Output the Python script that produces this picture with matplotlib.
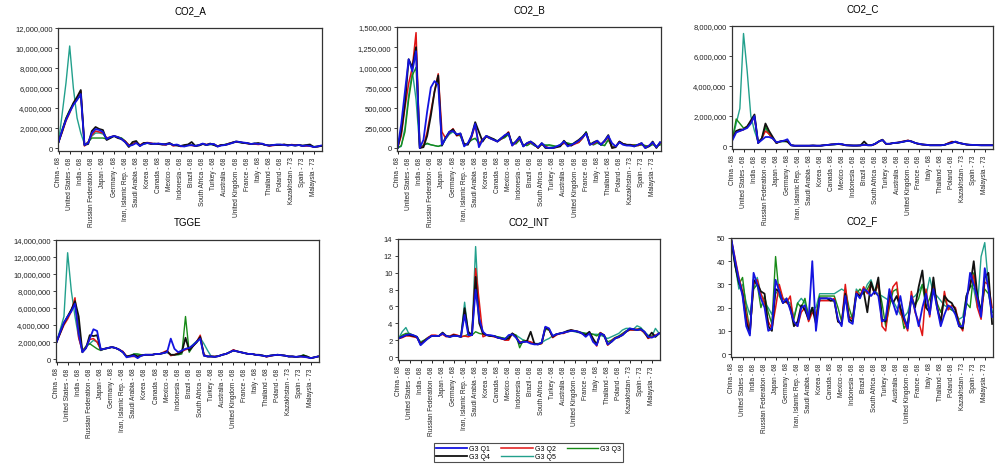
import numpy as np
import matplotlib
matplotlib.use("Agg")
import matplotlib.pyplot as plt
from matplotlib.ticker import FuncFormatter, MultipleLocator

plt.rcParams['font.family'] = ['Liberation Sans', 'DejaVu Sans']

# panel of 24 countries, 3 observations per country on the x axis
countries = ["China", "United States", "India", "Russian Federation", "Japan", "Germany",
             "Iran, Islamic Rep.", "Saudi Arabia", "Korea", "Canada", "Mexico", "Indonesia",
             "Brazil", "South Africa", "Turkey", "Australia", "United Kingdom", "France",
             "Italy", "Thailand", "Poland", "Kazakhstan", "Spain", "Malaysia"]
start_years = [68, 68, 68, 68, 68, 68, 68, 68, 68, 68, 68, 68,
               68, 68, 68, 68, 68, 68, 68, 68, 68, 73, 73, 73]
per_country = 3

series_names = ["G3 Q1", "G3 Q2", "G3 Q3", "G3 Q4", "G3 Q5"]

# CO2_A, millions
co2a_q1 = [0.6, 1.8, 2.8, 3.6, 4.3, 4.8, 5.4, 0.3, 0.5, 1.5, 1.9, 1.8, 1.6, 0.9, 1.1, 1.2, 1.1, 0.9,
           0.6, 0.2, 0.3, 0.5, 0.2, 0.4, 0.5, 0.45, 0.4, 0.45, 0.4, 0.35, 0.45, 0.3, 0.35, 0.2, 0.15, 0.25,
           0.3, 0.2, 0.3, 0.45, 0.3, 0.4, 0.4, 0.15, 0.25, 0.3, 0.4, 0.5, 0.65, 0.6, 0.55, 0.5, 0.4, 0.45,
           0.4, 0.45, 0.3, 0.25, 0.3, 0.35, 0.35, 0.3, 0.25, 0.3, 0.25, 0.3, 0.2, 0.25, 0.2, 0.1, 0.15, 0.25]
co2a_q2 = [0.6, 1.6, 2.7, 3.5, 4.4, 5.0, 5.7, 0.2, 0.6, 1.3, 1.7, 1.6, 1.5, 1.0, 1.1, 1.2, 1.1, 0.9,
           0.7, 0.3, 0.4, 0.6, 0.3, 0.5, 0.55, 0.5, 0.4, 0.45, 0.35, 0.3, 0.5, 0.2, 0.3, 0.15, 0.2, 0.3,
           0.25, 0.2, 0.3, 0.4, 0.35, 0.4, 0.35, 0.2, 0.3, 0.3, 0.45, 0.55, 0.6, 0.6, 0.5, 0.45, 0.4, 0.4,
           0.35, 0.4, 0.3, 0.2, 0.25, 0.3, 0.3, 0.35, 0.25, 0.35, 0.3, 0.3, 0.2, 0.2, 0.2, 0.1, 0.15, 0.2]
co2a_q3 = [0.6, 1.9, 3.0, 3.8, 4.4, 4.9, 5.2, 0.3, 0.6, 1.0, 1.0, 1.0, 1.0, 0.9, 1.1, 1.2, 1.1, 1.0,
           0.7, 0.3, 0.4, 0.5, 0.3, 0.4, 0.5, 0.45, 0.4, 0.4, 0.4, 0.35, 0.4, 0.3, 0.3, 0.2, 0.2, 0.25,
           0.3, 0.25, 0.3, 0.4, 0.3, 0.35, 0.4, 0.2, 0.3, 0.35, 0.45, 0.5, 0.6, 0.55, 0.5, 0.45, 0.4, 0.45,
           0.4, 0.4, 0.3, 0.25, 0.3, 0.35, 0.35, 0.3, 0.25, 0.3, 0.25, 0.3, 0.2, 0.25, 0.25, 0.15, 0.15, 0.2]
co2a_q4 = [0.6, 1.7, 2.9, 3.7, 4.5, 5.1, 5.8, 0.3, 0.4, 1.7, 2.1, 1.9, 1.8, 0.8, 1.0, 1.2, 1.0, 0.9,
           0.6, 0.1, 0.6, 0.7, 0.2, 0.5, 0.5, 0.4, 0.45, 0.4, 0.35, 0.4, 0.5, 0.3, 0.25, 0.2, 0.3, 0.35,
           0.6, 0.2, 0.25, 0.4, 0.3, 0.45, 0.3, 0.15, 0.3, 0.3, 0.4, 0.55, 0.65, 0.6, 0.5, 0.5, 0.4, 0.45,
           0.5, 0.4, 0.3, 0.25, 0.3, 0.3, 0.3, 0.35, 0.3, 0.3, 0.25, 0.3, 0.25, 0.3, 0.35, 0.1, 0.15, 0.2]
co2a_q5 = [0.6, 3.5, 6.5, 10.2, 6.0, 3.0, 1.5, 0.4, 0.5, 1.2, 1.5, 1.5, 1.4, 0.9, 1.0, 1.2, 1.1, 1.0,
           0.7, 0.3, 0.4, 0.5, 0.3, 0.4, 0.5, 0.45, 0.4, 0.45, 0.35, 0.3, 0.45, 0.3, 0.3, 0.2, 0.2, 0.3,
           0.3, 0.2, 0.3, 0.4, 0.35, 0.35, 0.3, 0.2, 0.3, 0.35, 0.45, 0.55, 0.6, 0.55, 0.5, 0.45, 0.4, 0.45,
           0.4, 0.4, 0.3, 0.25, 0.3, 0.3, 0.3, 0.35, 0.25, 0.3, 0.3, 0.3, 0.2, 0.25, 0.25, 0.1, 0.15, 0.2]

# CO2_B, thousands
co2b_q1 = [0, 300, 700, 1100, 950, 1200, 0, 100, 450, 750, 830, 780, 40, 120, 200, 210, 170, 180,
           20, 60, 150, 300, 10, 100, 150, 120, 100, 80, 120, 160, 180, 30, 80, 130, 20, 60,
           80, 40, 10, 60, 10, 0, 0, 20, 40, 80, 20, 40, 60, 90, 130, 180, 40, 60,
           90, 40, 90, 150, 60, 20, 70, 40, 30, 30, 20, 40, 60, 0, 30, 70, 10, 70]
co2b_q2 = [0, 150, 500, 800, 1000, 1430, 0, 20, 200, 450, 700, 920, 200, 120, 190, 240, 150, 170,
           40, 50, 130, 280, 40, 110, 140, 120, 100, 80, 110, 150, 200, 30, 70, 120, 30, 50,
           70, 40, 0, 50, 20, 0, 0, 10, 30, 60, 40, 30, 50, 70, 120, 190, 50, 50,
           80, 50, 80, 140, 0, 20, 80, 50, 40, 40, 30, 30, 50, 10, 30, 60, 10, 60]
co2b_q3 = [0, 30, 200, 600, 900, 1000, 0, 30, 60, 40, 30, 20, 40, 120, 180, 220, 170, 150,
           40, 60, 100, 120, 60, 100, 140, 120, 100, 80, 110, 130, 170, 60, 50, 100, 40, 30,
           60, 30, 10, 40, 30, 40, 30, 20, 40, 70, 60, 50, 60, 70, 120, 200, 60, 40,
           70, 40, 30, 100, 10, 20, 80, 50, 40, 30, 40, 30, 40, 30, 20, 50, 20, 40]
co2b_q4 = [0, 200, 550, 1100, 1000, 1250, 0, 10, 150, 400, 700, 900, 30, 130, 200, 230, 160, 180,
           50, 40, 150, 320, 200, 80, 150, 130, 110, 80, 120, 150, 190, 40, 80, 140, 20, 60,
           80, 50, 0, 60, 0, 0, 0, 10, 20, 90, 40, 30, 70, 100, 140, 190, 40, 70,
           90, 40, 90, 160, 0, 10, 80, 50, 40, 40, 20, 40, 60, 0, 20, 80, 0, 70]
co2b_q5 = [0, 20, 250, 650, 950, 600, 0, 40, 50, 40, 30, 20, 30, 110, 170, 200, 160, 150,
           30, 50, 100, 120, 60, 100, 140, 120, 110, 90, 110, 130, 170, 50, 60, 110, 40, 30,
           60, 30, 10, 50, 40, 30, 20, 20, 30, 60, 60, 50, 60, 70, 130, 200, 50, 40,
           60, 40, 30, 110, 20, 20, 70, 50, 40, 30, 40, 30, 40, 30, 20, 40, 20, 40]

# CO2_C, millions
co2c_q1 = [0.4, 0.9, 1.0, 1.1, 1.2, 1.5, 2.0, 0.2, 0.4, 0.6, 0.6, 0.5, 0.25, 0.3, 0.35, 0.45, 0.05, 0.02,
           0.02, 0.02, 0.02, 0.02, 0.03, 0.02, 0.02, 0.05, 0.07, 0.1, 0.12, 0.15, 0.12, 0.05, 0.04, 0.03, 0.03, 0.04,
           0.08, 0.05, 0.05, 0.15, 0.3, 0.4, 0.15, 0.15, 0.2, 0.22, 0.25, 0.3, 0.35, 0.3, 0.2, 0.15, 0.1, 0.08,
           0.05, 0.05, 0.05, 0.05, 0.08, 0.15, 0.2, 0.3, 0.2, 0.15, 0.1, 0.08, 0.07, 0.06, 0.05, 0.05, 0.05, 0.05]
co2c_q2 = [0.5, 1.0, 1.0, 1.1, 1.3, 1.6, 1.9, 0.2, 0.5, 1.0, 0.8, 0.5, 0.2, 0.3, 0.35, 0.3, 0.05, 0.02,
           0.02, 0.02, 0.02, 0.02, 0.03, 0.02, 0.02, 0.05, 0.08, 0.1, 0.12, 0.12, 0.1, 0.05, 0.04, 0.03, 0.03, 0.04,
           0.06, 0.05, 0.05, 0.12, 0.3, 0.42, 0.12, 0.15, 0.2, 0.22, 0.28, 0.33, 0.38, 0.3, 0.2, 0.12, 0.1, 0.08,
           0.05, 0.05, 0.05, 0.05, 0.08, 0.2, 0.3, 0.25, 0.2, 0.15, 0.1, 0.08, 0.07, 0.06, 0.05, 0.05, 0.05, 0.05]
co2c_q3 = [0.5, 1.8, 1.5, 1.2, 1.3, 1.6, 2.0, 0.2, 0.5, 1.3, 0.8, 0.5, 0.2, 0.3, 0.3, 0.3, 0.05, 0.02,
           0.02, 0.02, 0.02, 0.02, 0.03, 0.02, 0.02, 0.05, 0.07, 0.1, 0.1, 0.12, 0.1, 0.05, 0.04, 0.03, 0.03, 0.04,
           0.1, 0.05, 0.05, 0.15, 0.3, 0.4, 0.15, 0.15, 0.2, 0.2, 0.25, 0.3, 0.35, 0.3, 0.2, 0.12, 0.1, 0.08,
           0.05, 0.05, 0.05, 0.05, 0.08, 0.15, 0.25, 0.25, 0.2, 0.15, 0.1, 0.08, 0.07, 0.06, 0.05, 0.05, 0.05, 0.05]
co2c_q4 = [0.5, 1.0, 1.1, 1.1, 1.3, 1.7, 2.1, 0.2, 0.5, 1.5, 1.0, 0.6, 0.2, 0.3, 0.35, 0.3, 0.05, 0.02,
           0.02, 0.02, 0.02, 0.02, 0.03, 0.02, 0.02, 0.05, 0.07, 0.1, 0.12, 0.14, 0.11, 0.05, 0.04, 0.03, 0.03, 0.04,
           0.3, 0.05, 0.05, 0.14, 0.3, 0.42, 0.14, 0.15, 0.2, 0.22, 0.26, 0.31, 0.36, 0.3, 0.2, 0.14, 0.1, 0.08,
           0.05, 0.05, 0.05, 0.05, 0.08, 0.17, 0.25, 0.28, 0.2, 0.15, 0.1, 0.08, 0.07, 0.06, 0.05, 0.05, 0.05, 0.05]
co2c_q5 = [0.5, 1.5, 2.5, 7.5, 5.0, 2.0, 1.0, 0.3, 0.5, 1.2, 0.8, 0.5, 0.2, 0.3, 0.3, 0.3, 0.05, 0.02,
           0.02, 0.02, 0.02, 0.02, 0.03, 0.02, 0.02, 0.05, 0.07, 0.1, 0.1, 0.12, 0.1, 0.05, 0.04, 0.03, 0.03, 0.04,
           0.1, 0.05, 0.05, 0.15, 0.3, 0.4, 0.15, 0.15, 0.2, 0.2, 0.25, 0.3, 0.35, 0.3, 0.2, 0.12, 0.1, 0.08,
           0.05, 0.05, 0.05, 0.05, 0.08, 0.15, 0.25, 0.25, 0.2, 0.15, 0.1, 0.08, 0.07, 0.06, 0.05, 0.05, 0.05, 0.05]

# TGGE, millions
tgge_q1 = [2.0, 3.2, 4.3, 5.0, 5.6, 6.5, 3.0, 0.8, 1.3, 2.4, 3.5, 3.3, 1.1, 1.2, 1.3, 1.4, 1.3, 1.1,
           0.8, 0.2, 0.3, 0.4, 0.1, 0.4, 0.5, 0.5, 0.5, 0.6, 0.6, 0.7, 0.8, 2.4, 1.2, 0.8, 1.0, 1.2,
           1.3, 1.6, 2.0, 2.4, 0.4, 0.3, 0.3, 0.25, 0.35, 0.5, 0.6, 0.8, 1.0, 0.9, 0.8, 0.7, 0.6, 0.6,
           0.5, 0.45, 0.4, 0.3, 0.4, 0.45, 0.5, 0.45, 0.4, 0.3, 0.3, 0.25, 0.3, 0.25, 0.2, 0.1, 0.2, 0.3]
tgge_q2 = [2.0, 3.0, 4.0, 4.7, 5.6, 7.2, 2.5, 0.9, 1.4, 2.3, 2.4, 2.0, 1.1, 1.2, 1.3, 1.4, 1.3, 1.1,
           0.9, 0.3, 0.3, 0.3, 0.3, 0.4, 0.5, 0.5, 0.5, 0.6, 0.6, 0.8, 1.0, 0.4, 0.5, 0.7, 0.9, 1.1,
           1.2, 1.5, 2.0, 2.8, 0.5, 0.3, 0.3, 0.3, 0.35, 0.5, 0.6, 0.8, 1.1, 0.9, 0.8, 0.7, 0.6, 0.6,
           0.5, 0.45, 0.4, 0.25, 0.35, 0.45, 0.5, 0.45, 0.4, 0.3, 0.3, 0.25, 0.3, 0.25, 0.2, 0.1, 0.2, 0.3]
tgge_q3 = [2.0, 3.3, 4.3, 5.0, 5.8, 6.6, 4.0, 0.9, 1.5, 1.8, 1.5, 1.2, 1.0, 1.2, 1.3, 1.4, 1.3, 1.1,
           0.8, 0.3, 0.3, 0.6, 0.6, 0.5, 0.5, 0.5, 0.5, 0.6, 0.6, 0.7, 0.8, 0.5, 0.5, 0.5, 0.6, 5.0,
           0.8, 1.5, 1.9, 2.5, 0.5, 0.3, 0.3, 0.3, 0.35, 0.5, 0.6, 0.8, 1.0, 0.9, 0.8, 0.7, 0.6, 0.6,
           0.5, 0.45, 0.4, 0.3, 0.4, 0.45, 0.5, 0.45, 0.4, 0.3, 0.3, 0.25, 0.3, 0.5, 0.3, 0.1, 0.2, 0.3]
tgge_q4 = [2.0, 3.1, 4.2, 5.0, 5.8, 6.8, 5.0, 0.8, 1.3, 2.8, 2.7, 2.8, 1.1, 1.2, 1.3, 1.4, 1.3, 1.1,
           0.8, 0.3, 0.4, 0.5, 0.3, 0.4, 0.5, 0.5, 0.5, 0.6, 0.6, 0.7, 0.9, 0.5, 0.5, 0.6, 0.8, 2.5,
           1.0, 1.5, 2.0, 2.6, 0.4, 0.3, 0.3, 0.25, 0.35, 0.5, 0.6, 0.8, 1.0, 0.9, 0.8, 0.7, 0.6, 0.6,
           0.5, 0.5, 0.4, 0.3, 0.4, 0.45, 0.5, 0.45, 0.4, 0.3, 0.3, 0.25, 0.3, 0.4, 0.3, 0.1, 0.2, 0.3]
tgge_q5 = [2.0, 3.5, 5.0, 12.5, 8.0, 5.0, 2.5, 1.0, 1.5, 1.8, 2.2, 2.0, 1.1, 1.2, 1.3, 1.4, 1.3, 1.1,
           0.8, 0.3, 0.4, 0.6, 0.5, 0.5, 0.5, 0.5, 0.5, 0.6, 0.6, 0.7, 0.8, 0.5, 0.5, 0.6, 0.8, 1.2,
           1.3, 1.7, 2.1, 2.5, 1.8, 1.0, 0.3, 0.3, 0.35, 0.5, 0.6, 0.8, 1.0, 0.9, 0.8, 0.7, 0.6, 0.6,
           0.5, 0.45, 0.4, 0.3, 0.4, 0.45, 0.5, 0.45, 0.4, 0.3, 0.3, 0.25, 0.3, 0.3, 0.25, 0.1, 0.2, 0.3]

# CO2_INT
int_q1 = [2.2, 2.4, 2.6, 2.7, 2.6, 2.4, 1.4, 1.8, 2.2, 2.5, 2.5, 2.5, 2.8, 2.5, 2.4, 2.5, 2.5, 2.4,
          5.0, 2.6, 2.6, 8.0, 4.5, 3.0, 2.6, 2.6, 2.5, 2.3, 2.2, 2.1, 2.6, 2.7, 2.3, 1.7, 1.8, 1.8,
          1.6, 1.5, 1.5, 1.7, 3.6, 3.4, 2.5, 2.7, 2.8, 2.9, 3.0, 3.1, 3.1, 3.0, 2.8, 2.4, 2.8, 1.8,
          1.4, 2.8, 2.6, 1.5, 1.8, 2.2, 2.4, 2.6, 3.0, 3.4, 3.3, 3.2, 3.3, 3.0, 2.4, 2.3, 2.5, 2.8]
int_q2 = [2.2, 2.3, 2.5, 2.5, 2.4, 2.3, 1.6, 1.9, 2.3, 2.6, 2.6, 2.5, 2.7, 2.4, 2.5, 2.7, 2.6, 2.4,
          2.5, 2.4, 2.6, 10.5, 6.5, 2.4, 2.6, 2.5, 2.4, 2.3, 2.2, 2.0, 2.0, 2.8, 2.4, 1.8, 1.8, 1.9,
          1.8, 1.6, 1.5, 1.6, 3.5, 3.3, 2.3, 2.6, 2.8, 2.8, 3.0, 3.2, 3.1, 3.0, 2.8, 2.5, 2.9, 2.0,
          1.3, 2.9, 2.6, 1.4, 1.9, 2.3, 2.3, 2.7, 3.0, 3.2, 3.2, 3.3, 3.2, 2.9, 2.2, 2.4, 2.6, 2.8]
int_q3 = [2.2, 2.6, 2.8, 2.8, 2.6, 2.4, 1.7, 2.0, 2.3, 2.5, 2.5, 2.5, 2.8, 2.5, 2.4, 2.5, 2.5, 2.4,
          2.5, 2.7, 2.6, 3.0, 2.8, 2.7, 2.6, 2.5, 2.5, 2.4, 2.3, 2.2, 2.4, 2.8, 2.6, 1.1, 2.0, 1.9,
          1.7, 1.6, 1.5, 1.6, 3.3, 3.2, 2.5, 2.7, 2.8, 2.9, 3.0, 3.1, 3.1, 3.0, 2.9, 2.8, 2.8, 2.7,
          2.5, 2.9, 2.5, 1.8, 2.0, 2.3, 2.5, 2.8, 3.1, 3.3, 3.2, 3.3, 3.4, 2.8, 2.4, 2.5, 2.4, 2.8]
int_q4 = [2.2, 2.4, 2.6, 2.6, 2.5, 2.4, 1.5, 1.9, 2.2, 2.5, 2.5, 2.5, 2.9, 2.5, 2.4, 2.6, 2.5, 2.4,
          5.8, 3.0, 2.6, 9.5, 4.0, 2.8, 2.6, 2.5, 2.5, 2.3, 2.2, 2.1, 2.2, 2.8, 2.4, 1.6, 1.8, 1.9,
          3.0, 1.6, 1.5, 1.7, 3.5, 3.3, 2.4, 2.7, 2.8, 2.9, 3.1, 3.2, 3.1, 3.0, 2.8, 2.6, 3.0, 2.2,
          1.5, 2.8, 2.6, 1.5, 1.8, 2.2, 2.4, 2.6, 3.0, 3.3, 3.3, 3.2, 3.3, 3.0, 2.3, 2.9, 2.4, 2.8]
int_q5 = [2.2, 3.0, 3.5, 2.6, 2.5, 2.4, 1.8, 2.0, 2.3, 2.5, 2.5, 2.5, 2.8, 2.5, 2.4, 2.6, 2.5, 2.4,
          6.5, 2.8, 2.7, 13.1, 4.8, 2.9, 2.6, 2.5, 2.5, 2.4, 2.3, 2.2, 2.5, 2.7, 2.6, 2.3, 2.0, 1.9,
          1.7, 1.6, 1.6, 1.7, 2.0, 2.2, 2.5, 2.7, 2.8, 2.9, 3.0, 3.1, 3.0, 2.9, 2.9, 2.8, 2.8, 2.7,
          2.7, 2.6, 2.4, 2.2, 2.4, 2.6, 2.8, 3.2, 3.4, 3.4, 3.3, 3.7, 3.5, 3.0, 2.6, 2.4, 3.4, 2.8]

# CO2_F
f_q1 = [49, 40, 32, 25, 12, 8, 35, 30, 24, 20, 10, 11, 32, 27, 22, 24, 19, 14,
        12, 20, 21, 15, 40, 10, 24, 24, 24, 24, 23, 15, 12, 25, 14, 13, 26, 24,
        28, 27, 25, 27, 25, 14, 15, 28, 22, 17, 25, 16, 11, 25, 19, 12, 20, 26,
        17, 28, 20, 12, 17, 21, 20, 17, 12, 12, 22, 35, 30, 24, 16, 37, 28, 16]
f_q2 = [49, 41, 33, 27, 17, 9, 30, 32, 26, 22, 14, 11, 20, 30, 24, 22, 25, 13,
        12, 18, 20, 14, 18, 16, 23, 23, 23, 23, 24, 14, 13, 30, 16, 15, 27, 25,
        29, 26, 30, 26, 31, 12, 10, 23, 29, 31, 18, 14, 10, 27, 18, 14, 8, 28,
        16, 31, 21, 13, 27, 19, 21, 20, 13, 10, 24, 30, 34, 20, 15, 31, 30, 20]
f_q3 = [49, 38, 30, 33, 20, 10, 28, 30, 20, 25, 18, 13, 42, 25, 22, 24, 20, 15,
        22, 20, 24, 16, 20, 17, 25, 25, 25, 25, 25, 20, 14, 28, 20, 15, 26, 28,
        26, 28, 31, 26, 30, 22, 12, 20, 27, 28, 20, 11, 14, 25, 21, 24, 30, 20,
        24, 30, 22, 18, 24, 20, 19, 18, 14, 11, 22, 20, 35, 25, 19, 28, 26, 18]
f_q4 = [48, 38, 31, 26, 14, 9, 32, 30, 27, 26, 12, 10, 28, 27, 22, 23, 20, 12,
        14, 21, 19, 15, 20, 13, 24, 24, 24, 23, 23, 14, 13, 26, 15, 14, 26, 25,
        27, 18, 31, 26, 33, 15, 14, 26, 22, 25, 20, 15, 12, 24, 20, 29, 36, 20,
        18, 33, 20, 14, 25, 23, 22, 19, 12, 11, 25, 29, 40, 25, 18, 33, 35, 13]
f_q5 = [49, 38, 28, 30, 22, 17, 28, 33, 26, 22, 20, 17, 26, 28, 24, 23, 22, 16,
        22, 24, 22, 17, 20, 20, 26, 26, 26, 26, 26, 27, 28, 27, 16, 16, 28, 26,
        26, 30, 32, 27, 26, 25, 24, 23, 23, 20, 17, 16, 18, 24, 25, 27, 30, 25,
        33, 26, 25, 23, 21, 20, 19, 18, 15, 16, 25, 30, 28, 20, 42, 48, 30, 18]

colors = ["#1414e0", "#e01414", "#178a17", "#111111", "#22a08c"]
widths = [1.3, 1.1, 1.0, 1.3, 1.0]
draw_order = [4, 2, 1, 3, 0]

panels = [
    ("CO2_A", [co2a_q1, co2a_q2, co2a_q3, co2a_q4, co2a_q5], 1e6, 12e6, 2e6,
     [0.0582, 0.6813, 0.2648, 0.2579]),
    ("CO2_B", [co2b_q1, co2b_q2, co2b_q3, co2b_q4, co2b_q5], 1e3, 1.5e6, 2.5e5,
     [0.3982, 0.6813, 0.2648, 0.2600]),
    ("CO2_C", [co2c_q1, co2c_q2, co2c_q3, co2c_q4, co2c_q5], 1e6, 8e6, 2e6,
     [0.7342, 0.6855, 0.2618, 0.2579]),
    ("TGGE", [tgge_q1, tgge_q2, tgge_q3, tgge_q4, tgge_q5], 1e6, 14e6, 2e6,
     [0.0562, 0.2390, 0.2638, 0.2558]),
    ("CO2_INT", [int_q1, int_q2, int_q3, int_q4, int_q5], 1, 14, 2,
     [0.3992, 0.2432, 0.2628, 0.2537]),
    ("CO2_F", [f_q1, f_q2, f_q3, f_q4, f_q5], 1, 50, 10,
     [0.7332, 0.2495, 0.2628, 0.2495]),
]

tick_pos = np.arange(len(countries)) * per_country
tick_labels = [f"{c} - {y}" for c, y in zip(countries, start_years)]

fig = plt.figure(figsize=(9.97, 4.77), dpi=100)
handles = {}
for title, series, scale, ymax, ystep, rect in panels:
    ax = fig.add_axes(rect)
    for i in draw_order:
        y = np.array(series[i], dtype=float) * scale
        line, = ax.plot(np.arange(len(y)), y, color=colors[i], lw=widths[i],
                        label=series_names[i])
        handles[i] = line
    ax.set_xlim(-0.15, 71.25)
    ax.set_ylim(-0.025 * ymax, ymax)
    ax.yaxis.set_major_locator(MultipleLocator(ystep))
    ax.yaxis.set_major_formatter(FuncFormatter(lambda v, p: f"{v:,.0f}"))
    ax.set_xticks(tick_pos)
    ax.set_xticklabels(tick_labels, rotation=90, fontsize=4.7, color="#222222")
    ax.tick_params(axis="y", labelsize=5.5, length=2.5, width=0.6, pad=1.5, colors="#222222")
    ax.tick_params(axis="x", length=2.5, width=0.6, pad=1.5)
    for s in ax.spines.values():
        s.set_linewidth(0.9)
        s.set_color("#333333")
    ax.set_title(title, fontsize=7, pad=11)

order = [0, 3, 1, 4, 2]
leg = fig.legend([handles[i] for i in order], [series_names[i] for i in order],
                 loc="center", bbox_to_anchor=(0.5303, 0.0485), ncol=3, fontsize=5,
                 frameon=True, fancybox=False, handlelength=4.5, handletextpad=0.3,
                 columnspacing=1.6, labelspacing=0.15, borderpad=0.3)
leg.get_frame().set_edgecolor("#222222")
leg.get_frame().set_linewidth(0.8)

fig.savefig("out.png", dpi=100)
